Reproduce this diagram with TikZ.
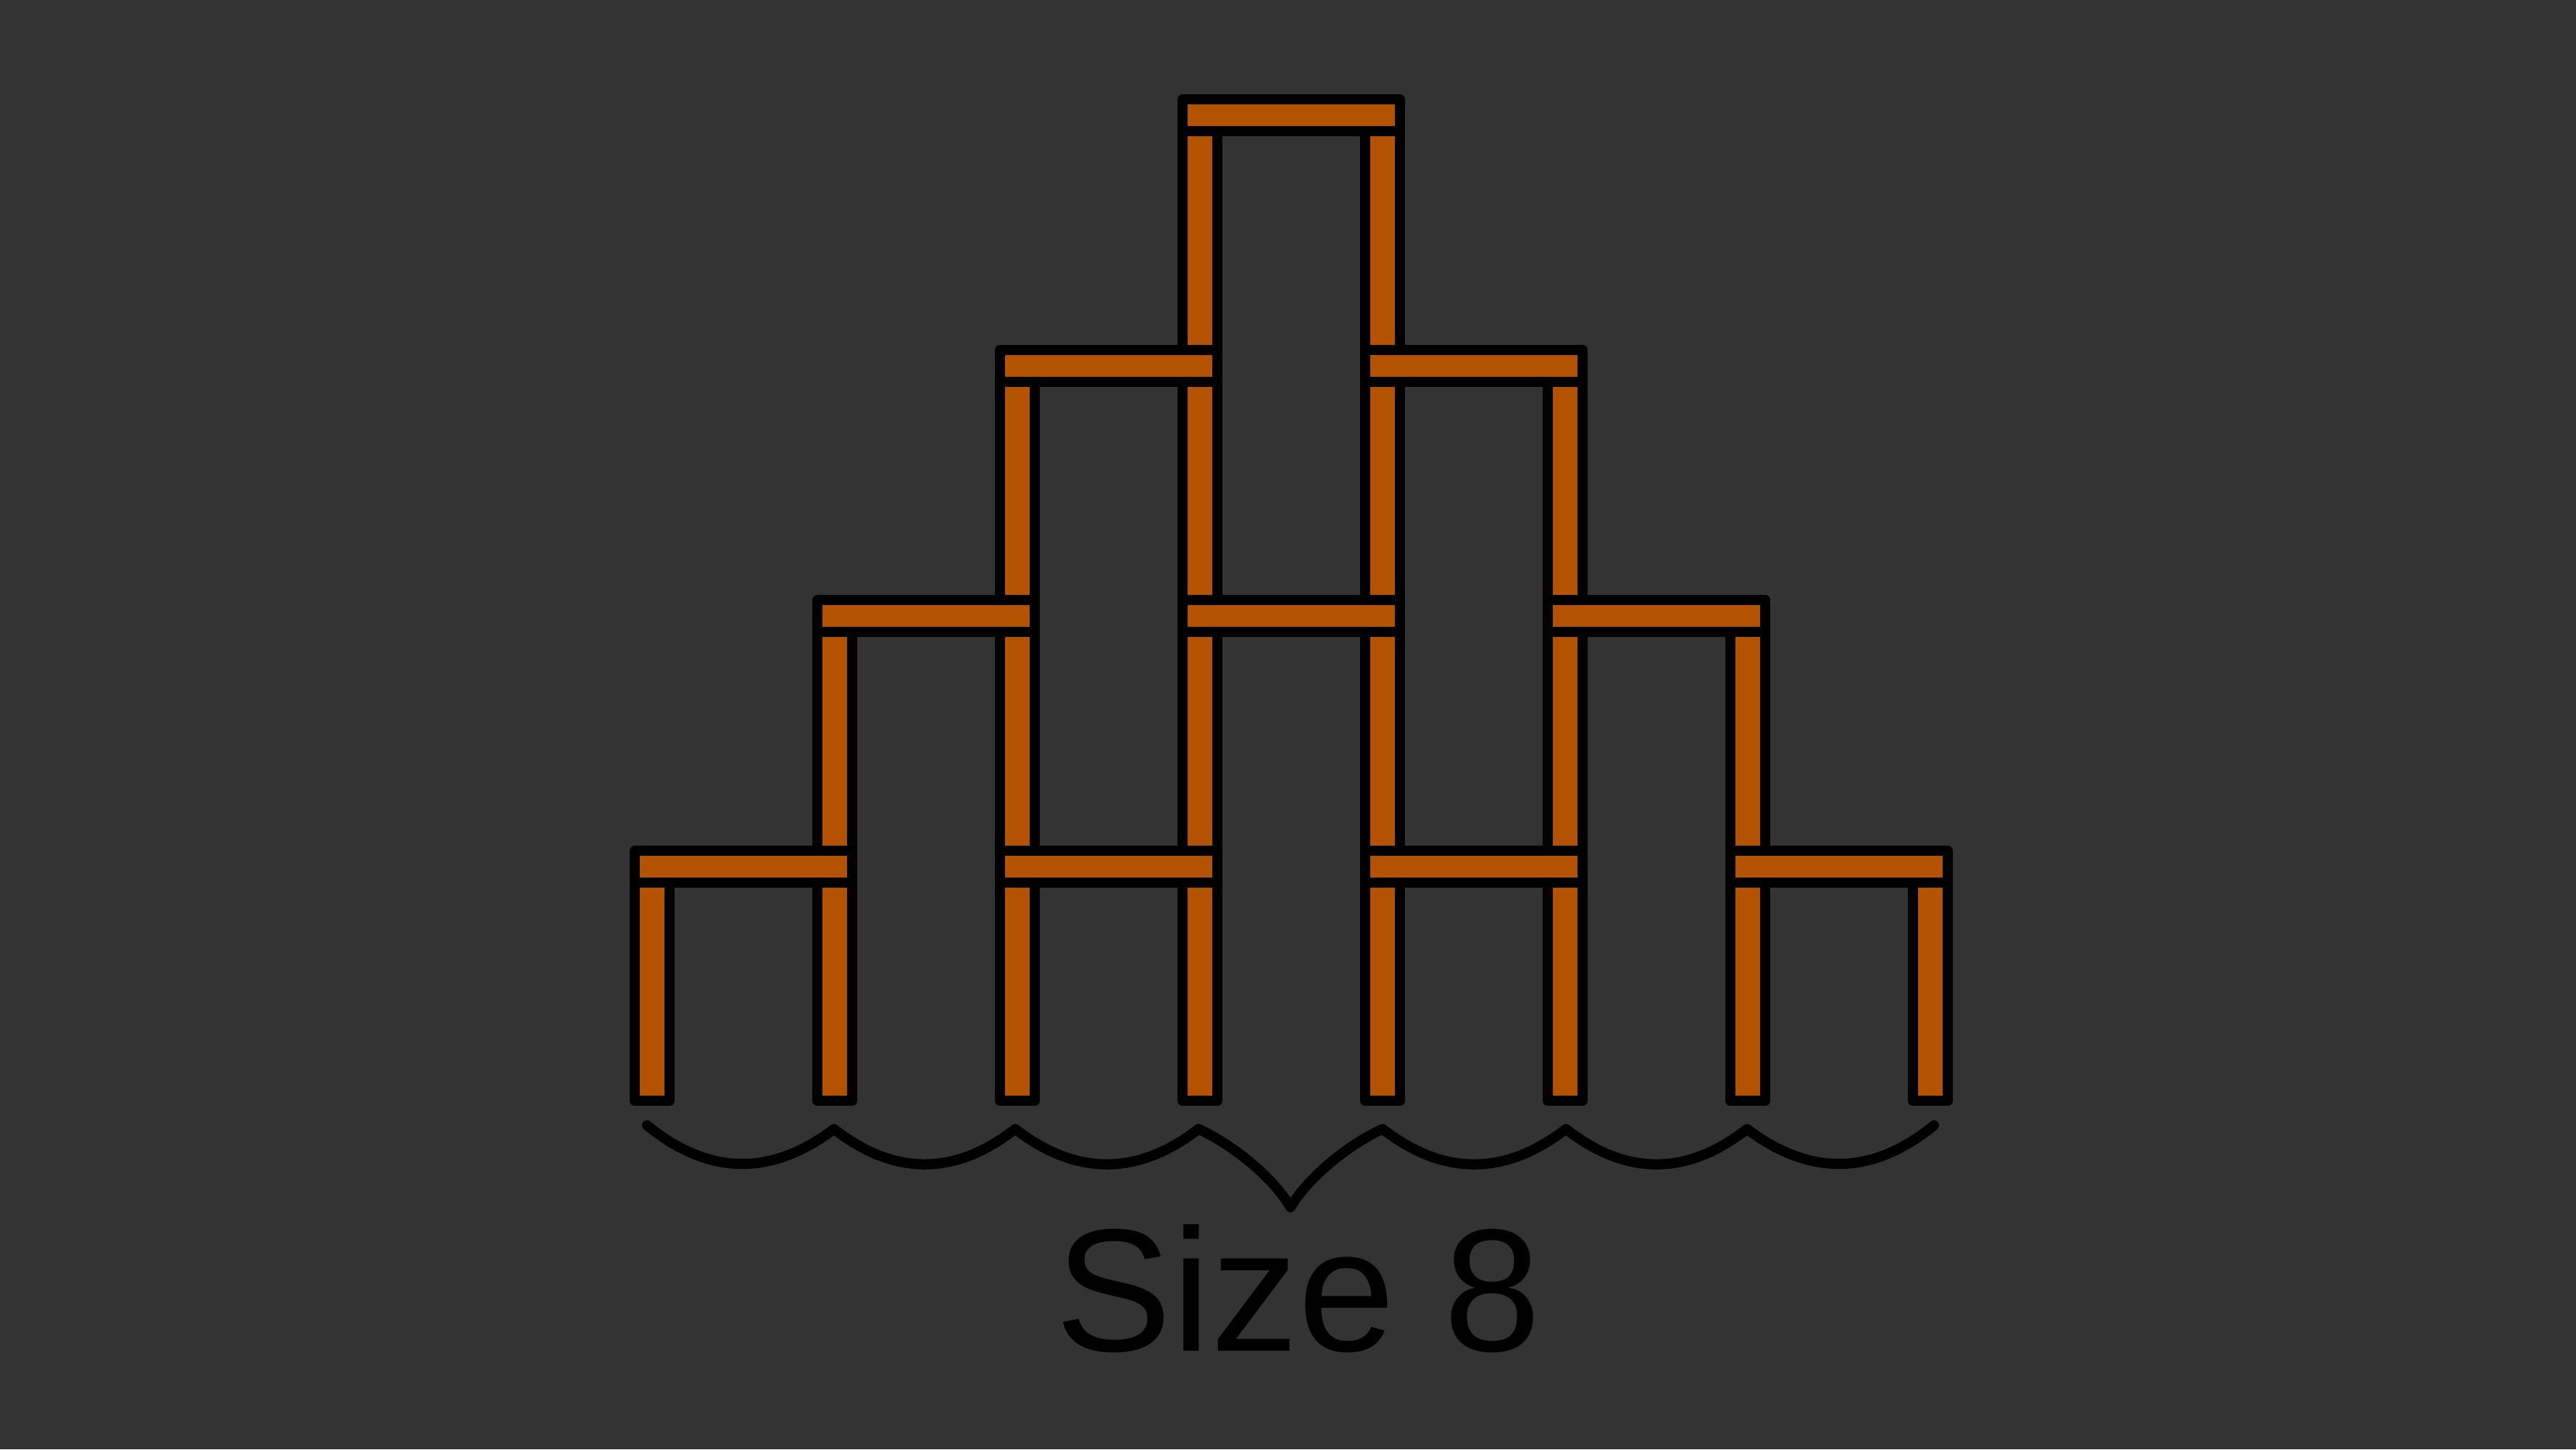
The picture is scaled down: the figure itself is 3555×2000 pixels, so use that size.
\documentclass[tikz,border=0pt]{standalone}
\usepackage{fontspec}
\setmainfont{Liberation Sans}
\definecolor{bgcol}{HTML}{333333}
\definecolor{wood}{HTML}{B35200}
\begin{document}
\begin{tikzpicture}[x=0.1mm,y=-0.1mm,
  card/.style={fill=wood,draw=black,line width=1.4mm,line join=round},
  bracestyle/.style={draw=black,line width=1.4mm,line cap=round,line join=round}]
\fill[bgcol] (0,0) rectangle (3555,2000);
\useasboundingbox (0,0) rectangle (3555,2000);
\foreach \k in {0,...,3}{
  \foreach \i in {0,...,\k}{
    \pgfmathsetmacro{\cx}{1782+(\i-\k/2)*504}
    \pgfmathsetmacro{\ty}{137+\k*345.6}
    \draw[card] (\cx-150,\ty) rectangle (\cx+150,\ty+44);
    \draw[card] (\cx-150,\ty+44) rectangle (\cx-102,\ty+345.6);
    \draw[card] (\cx+102,\ty+44) rectangle (\cx+150,\ty+345.6);
  }
}
\draw[bracestyle] (893,1553) .. controls (979,1623) and (1065,1623) .. (1151,1558)
  .. controls (1234,1623) and (1318,1623) .. (1401,1558)
  .. controls (1485,1623) and (1570,1623) .. (1654,1558)
  .. controls (1702,1580) and (1757,1625) .. (1781,1666)
  .. controls (1805,1625) and (1860,1580) .. (1908,1558)
  .. controls (1992,1623) and (2077,1623) .. (2161,1558)
  .. controls (2244,1623) and (2328,1623) .. (2411,1558)
  .. controls (2497,1623) and (2583,1623) .. (2669,1553);
\node (label) at (1792,1864) [anchor=base, inner sep=0pt, text=black, font=\fontsize{68.6pt}{82pt}\selectfont] {Size 8};
\end{tikzpicture}
\end{document}
